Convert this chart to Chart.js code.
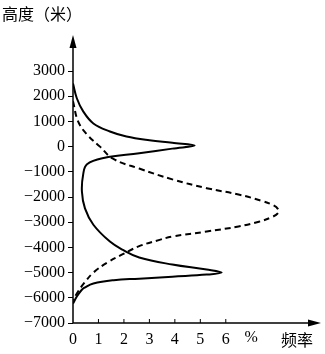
<!DOCTYPE html>
<html>
<head>
<meta charset="utf-8">
<script src="https://cdn.jsdelivr.net/npm/chart.js@4"></script>
<style>
  html, body { margin: 0; padding: 0; background: #fff; }
  #wrap { width: 325px; height: 354px; }
</style>
</head>
<body>
<div id="wrap"><canvas id="grafico"></canvas></div>
<script>
// ========== DADOS ==========
const alturaTicks = [3000, 2000, 1000, 0, -1000, -2000, -3000, -4000, -5000, -6000, -7000];
const freqTicks = [0, 1, 2, 3, 4, 5, 6];

// curva contínua (altura em m, frequência em %)
const solidHeights = [2500, 1920, 1400, 920, 600, 400, 250, 150, 40, -80, -260, -450, -700, -1100, -1780, -2450, -3100, -3770, -4100, -4400, -4680, -4880, -5000, -5080, -5160, -5240, -5300, -5430, -5600, -5700, -5950, -6230];
const solidFreq    = [0, 0.15, 0.4, 0.8, 1.45, 2.1, 3.0, 3.9, 4.78, 3.9, 2.6, 1.2, 0.55, 0.4, 0.35, 0.47, 0.8, 1.45, 1.96, 2.6, 3.9, 5.25, 5.84, 5.25, 3.9, 2.6, 1.6, 0.8, 0.45, 0.33, 0.15, 0];

// curva tracejada
const dashedHeights = [1800, 1000, 480, 0, -480, -870, -1300, -1650, -1900, -2150, -2320, -2480, -2640, -2800, -2980, -3170, -3370, -3570, -3700, -3950, -4250, -4600, -5000, -5400, -5750, -6100];
const dashedFreq    = [0, 0.2, 0.55, 1.06, 1.57, 2.6, 3.9, 5.25, 6.5, 7.4, 7.85, 8.05, 8.05, 7.8, 7.3, 6.5, 5.25, 3.9, 3.4, 2.6, 2.0, 1.35, 0.8, 0.45, 0.2, 0];

const fonteNum = '16px "Liberation Serif", "DejaVu Serif", serif';
const fonteCJK = '16px "Noto Sans CJK SC", sans-serif';

function pontos(hs, fs) {
    return hs.map((h, i) => ({ x: fs[i], y: h }));
}

// ========== EIXOS E TEXTOS ==========
const eixosPlugin = {
    id: 'eixos',
    afterDraw(chart) {
        const ctx = chart.ctx;
        const xs = chart.scales.x, ys = chart.scales.y;
        const x0 = xs.getPixelForValue(0);
        const y0 = ys.bottom;
        const xEnd = xs.right, yTop = ys.top;
        ctx.save();
        ctx.strokeStyle = '#000';
        ctx.fillStyle = '#000';
        ctx.lineWidth = 1.5;
        // linhas dos eixos
        ctx.beginPath();
        ctx.moveTo(x0, y0); ctx.lineTo(x0, yTop + 8);
        ctx.moveTo(x0, y0); ctx.lineTo(xEnd - 8, y0);
        ctx.stroke();
        // setas
        ctx.beginPath();
        ctx.moveTo(x0, yTop - 1); ctx.lineTo(x0 - 3.5, yTop + 12); ctx.lineTo(x0 + 3.5, yTop + 12); ctx.closePath();
        ctx.fill();
        ctx.beginPath();
        ctx.moveTo(xEnd + 1, y0); ctx.lineTo(xEnd - 12, y0 - 3.5); ctx.lineTo(xEnd - 12, y0 + 3.5); ctx.closePath();
        ctx.fill();
        // ticks do eixo x (para dentro)
        ctx.lineWidth = 1;
        freqTicks.forEach(v => {
            if (v === 0) return;
            const px = xs.getPixelForValue(v);
            ctx.beginPath(); ctx.moveTo(px, y0); ctx.lineTo(px, y0 - 4); ctx.stroke();
        });
        // textos
        ctx.font = fonteNum;
        ctx.textAlign = 'center';
        ctx.textBaseline = 'middle';
        ctx.fillText('%', xs.getPixelForValue(7), 338);
        ctx.font = fonteCJK;
        ctx.fillText('频率', 297, 340);
        ctx.textAlign = 'left';
        ctx.fillText('高度（米）', 2, 14);
        ctx.restore();
    }
};

const grafico = new Chart(document.getElementById('grafico'), {
    type: 'scatter',
    data: {
        datasets: [{
            data: pontos(solidHeights, solidFreq),
            showLine: true,
            borderColor: '#000',
            borderWidth: 2,
            pointRadius: 0,
            tension: 0.4,
            fill: false
        }, {
            data: pontos(dashedHeights, dashedFreq),
            showLine: true,
            borderColor: '#000',
            borderWidth: 2,
            borderDash: [6, 4],
            pointRadius: 0,
            tension: 0.4,
            fill: false
        }]
    },
    options: {
        responsive: true,
        maintainAspectRatio: false,
        animation: false,
        devicePixelRatio: 1,
        layout: { padding: { top: 36, right: 5, left: 0, bottom: 0 } },
        plugins: {
            legend: { display: false },
            tooltip: { enabled: false }
        },
        scales: {
            x: {
                type: 'linear',
                min: 0,
                max: 9.7,
                afterBuildTicks: s => { s.ticks = freqTicks.map(v => ({ value: v })); },
                afterFit: s => { s.height = 31; },
                grid: { display: false, drawTicks: false },
                border: { display: false },
                ticks: {
                    color: '#000',
                    font: { family: '"Liberation Serif", serif', size: 16 },
                    padding: 7,
                    maxRotation: 0,
                    autoSkip: false
                }
            },
            y: {
                type: 'linear',
                min: -7000,
                max: 4390,
                afterBuildTicks: s => { s.ticks = alturaTicks.map(v => ({ value: v })); },
                afterFit: s => { s.width = 73; },
                grid: { drawOnChartArea: false, drawTicks: true, tickLength: 5, color: '#000', lineWidth: 1 },
                border: { display: false },
                ticks: {
                    color: '#000',
                    font: { family: '"Liberation Serif", serif', size: 16 },
                    padding: 3,
                    autoSkip: false,
                    callback: v => v < 0 ? '\u2212' + Math.abs(v) : String(v)
                }
            }
        }
    },
    plugins: [eixosPlugin]
});
</script>
</body>
</html>
